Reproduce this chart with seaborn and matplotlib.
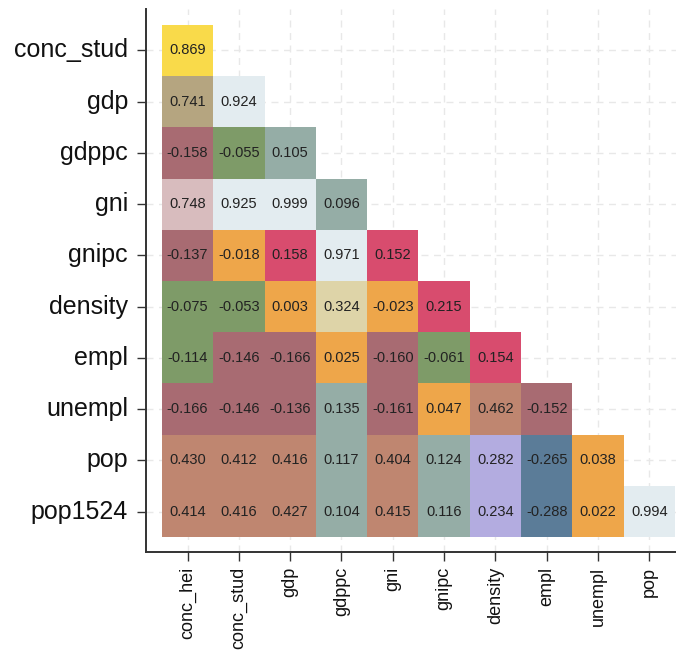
import numpy as np
import pandas as pd
import matplotlib
matplotlib.use("Agg")
import matplotlib.pyplot as plt
from matplotlib.colors import ListedColormap, BoundaryNorm
import seaborn as sns

# Variables (rows / columns of the lower-triangle correlation table)
row_labels = ["conc_stud", "gdp", "gdppc", "gni", "gnipc", "density",
              "empl", "unempl", "pop", "pop1524"]
col_labels = ["conc_hei", "conc_stud", "gdp", "gdppc", "gni", "gnipc",
              "density", "empl", "unempl", "pop"]

# Pairwise correlations, one list per row (lower triangle)
r_conc_stud = [0.869]
r_gdp = [0.741, 0.924]
r_gdppc = [-0.158, -0.055, 0.105]
r_gni = [0.748, 0.925, 0.999, 0.096]
r_gnipc = [-0.137, -0.018, 0.158, 0.971, 0.152]
r_density = [-0.075, -0.053, 0.003, 0.324, -0.023, 0.215]
r_empl = [-0.114, -0.146, -0.166, 0.025, -0.160, -0.061, 0.154]
r_unempl = [-0.166, -0.146, -0.136, 0.135, -0.161, 0.047, 0.462, -0.152]
r_pop = [0.430, 0.412, 0.416, 0.117, 0.404, 0.124, 0.282, -0.265, 0.038]
r_pop1524 = [0.414, 0.416, 0.427, 0.104, 0.415, 0.116, 0.234, -0.288, 0.022, 0.994]

rows = [r_conc_stud, r_gdp, r_gdppc, r_gni, r_gnipc, r_density,
        r_empl, r_unempl, r_pop, r_pop1524]

# Colour classes for the correlation coefficient
bin_edges = [-0.3, -0.2, -0.125, -0.05, 0.05, 0.15, 0.225, 0.3,
             0.4, 0.5, 0.745, 0.8, 0.9, 1.0]
bin_colors = ["#5B7C98", "#A86B72", "#7E9B68", "#EEA64A", "#95ADA6",
              "#D84C6E", "#B3ACE0", "#DED4A8", "#BF8670", "#B5A580",
              "#D8BCBE", "#F9DA4A", "#E3ECF0"]

n = len(col_labels)
mat = np.full((len(row_labels), n), np.nan)
for i, vals in enumerate(rows):
    mat[i, :len(vals)] = vals
df = pd.DataFrame(mat, index=row_labels, columns=col_labels)

sns.set_theme(style="white")
plt.rcParams["font.family"] = ["Liberation Sans", "DejaVu Sans"]

fig = plt.figure(figsize=(6.76, 6.59), dpi=100)
ax = fig.add_axes([146 / 676, 1 - 552 / 659, 1 - 146 / 676, (552 - 9) / 659])

cmap = ListedColormap(bin_colors)
norm = BoundaryNorm(bin_edges, cmap.N)

sns.heatmap(df, ax=ax, cmap=cmap, norm=norm, mask=df.isna(), cbar=False,
            annot=True, fmt=".3f",
            annot_kws={"size": 10.5, "color": "#222222"},
            linewidths=0, square=False)

ax.set_xlim(-0.31, 10.02)
ax.set_ylim(10.29, -0.31)

ax.set_axisbelow(True)
ax.grid(True, linestyle=(0, (5, 4)), color="#E8E8E8", linewidth=1.0)

for side in ["top", "right"]:
    ax.spines[side].set_visible(False)
for side in ["left", "bottom"]:
    ax.spines[side].set_visible(True)
    ax.spines[side].set_color("#333333")
    ax.spines[side].set_linewidth(1.4)

ax.tick_params(axis="both", direction="out", length=6.5, width=1.0,
               color="#333333", left=True, bottom=True)
ax.tick_params(axis="y", labelsize=18, pad=6.5, labelcolor="#111111")
ax.tick_params(axis="x", labelsize=13, pad=4, labelcolor="#111111")
ax.set_yticklabels(row_labels, rotation=0)
ax.set_xticklabels(col_labels, rotation=90)
ax.set_xlabel("")
ax.set_ylabel("")

fig.savefig("out.png", dpi=100, facecolor="white")
